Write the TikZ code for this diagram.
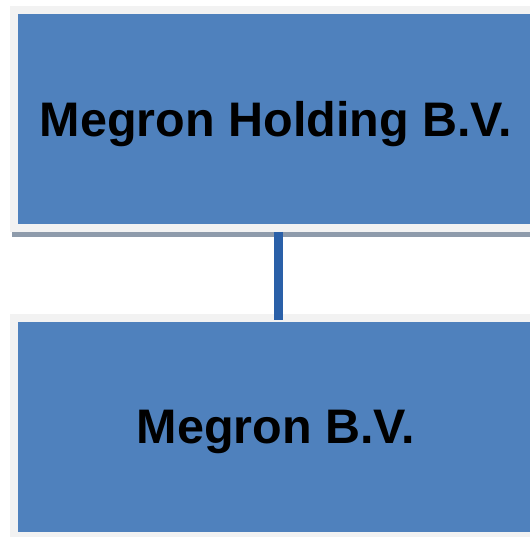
\documentclass[tikz,border=0pt]{standalone}
\usepackage{fontspec}
\setmainfont{Liberation Sans}
\usetikzlibrary{positioning}
\definecolor{boxblue}{HTML}{4F81BD}
\definecolor{boxrim}{HTML}{F2F2F2}
\definecolor{shadowgray}{HTML}{8E9BAB}
\definecolor{linkblue}{HTML}{2A60A8}
\tikzset{
    x=1pt, y=1pt,
    orgbox/.style={rectangle, fill=boxblue, draw=boxrim, line width=8pt,
        minimum width=524pt, minimum height=218pt, inner sep=0pt, text depth=0pt,
        font=\fontsize{48.5}{58}\selectfont\bfseries}, % one box of the chart
    link/.style={draw=linkblue, line width=9pt}, % the line between boxes
    node distance=82pt, % gap between the two boxes
}
\begin{document}
\begin{tikzpicture}
\useasboundingbox (0,0) rectangle (529,537);
\node[orgbox] (holding) at (276,418) {Megron Holding B.V.};
\node[orgbox, below=of holding] (megron) {Megron B.V.};
% shadow line under the top box
\fill[shadowgray] ([xshift=2pt]holding.south west) rectangle ([yshift=-5pt]holding.south east);
\draw[link] ([xshift=2.5pt]holding.south) -- ([xshift=2.5pt, yshift=-6pt]megron.north);
\end{tikzpicture}
\end{document}
